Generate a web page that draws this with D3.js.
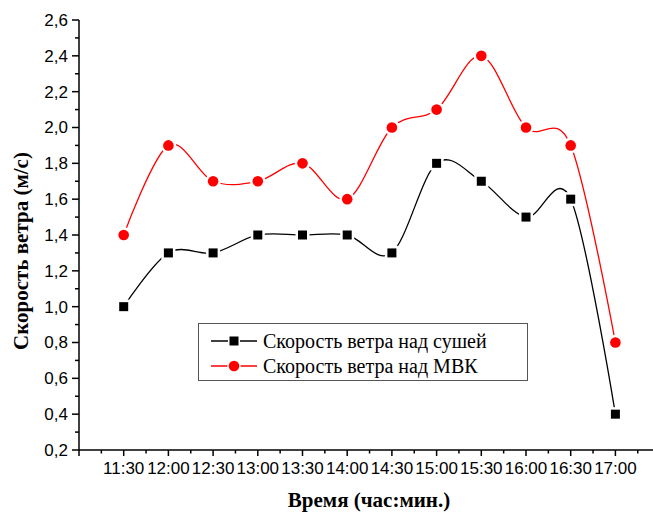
<!DOCTYPE html>
<html>
<head>
<meta charset="utf-8">
<script src="https://cdn.jsdelivr.net/npm/d3@7"></script>
<style>
  body { margin: 0; background: #fff; }
</style>
</head>
<body>
<div id="chart"></div>
<script>
// data
var times = ["11:30", "12:00", "12:30", "13:00", "13:30", "14:00", "14:30", "15:00", "15:30", "16:00", "16:30", "17:00"];
var landSpeed = [1.0, 1.3, 1.3, 1.4, 1.4, 1.4, 1.3, 1.8, 1.7, 1.5, 1.6, 0.4];
var mvkSpeed = [1.4, 1.9, 1.7, 1.7, 1.8, 1.6, 2.0, 2.1, 2.4, 2.0, 1.9, 0.8];
var yTicks = [0.2, 0.4, 0.6, 0.8, 1.0, 1.2, 1.4, 1.6, 1.8, 2.0, 2.2, 2.4, 2.6];
var seriesNames = ["Скорость ветра над сушей", "Скорость ветра над МВК"];

var width = 653, height = 514;
var plotLeft = 79, plotTop = 20, plotBottom = 450;

var svg = d3.select("#chart").append("svg")
    .attr("width", width)
    .attr("height", height);

// index -1 sits on the y axis, one step is ~44.7px
var x = d3.scaleLinear().domain([-1, 12]).range([plotLeft, plotLeft + 13 * 44.7]);
var y = d3.scaleLinear().domain([0.2, 2.6]).range([plotBottom, plotTop]);

// x axis: major ticks on each slot, minor at halves
var xMajor = d3.range(-1, 13);
var xMinor = d3.range(-0.5, 12.5, 1);
var xAxis = svg.append("g").attr("transform", "translate(0," + plotBottom + ")");
xAxis.append("line").attr("x1", plotLeft).attr("x2", width).attr("stroke", "#000").attr("stroke-width", 1.5);
xAxis.selectAll(".maj").data(xMajor).enter().append("line")
    .attr("x1", d => x(d)).attr("x2", d => x(d)).attr("y1", 0).attr("y2", 6)
    .attr("stroke", "#000").attr("stroke-width", 1.5);
xAxis.selectAll(".min").data(xMinor).enter().append("line")
    .attr("x1", d => x(d)).attr("x2", d => x(d)).attr("y1", 0).attr("y2", 3.5)
    .attr("stroke", "#000").attr("stroke-width", 1.5);
xAxis.selectAll("text").data(times).enter().append("text")
    .attr("x", (d, i) => x(i)).attr("y", 24)
    .attr("text-anchor", "middle")
    .style("font-family", "'Liberation Sans', Arial, sans-serif")
    .style("font-size", "17px")
    .text(d => d);

// y axis
var yMinor = d3.range(0.3, 2.6, 0.2);
var yAxis = svg.append("g").attr("transform", "translate(" + plotLeft + ",0)");
yAxis.append("line").attr("y1", plotTop).attr("y2", plotBottom).attr("stroke", "#000").attr("stroke-width", 1.5);
yAxis.selectAll(".maj").data(yTicks).enter().append("line")
    .attr("y1", d => y(d)).attr("y2", d => y(d)).attr("x1", 0).attr("x2", -7)
    .attr("stroke", "#000").attr("stroke-width", 1.5);
yAxis.selectAll(".min").data(yMinor).enter().append("line")
    .attr("y1", d => y(d)).attr("y2", d => y(d)).attr("x1", 0).attr("x2", -4)
    .attr("stroke", "#000").attr("stroke-width", 1.5);
yAxis.selectAll("text").data(yTicks).enter().append("text")
    .attr("x", -11).attr("y", d => y(d)).attr("dy", "0.35em")
    .attr("text-anchor", "end")
    .style("font-family", "'Liberation Sans', Arial, sans-serif")
    .style("font-size", "17px")
    .text(d => d.toFixed(1).replace(".", ","));

// axis titles
svg.append("text")
    .attr("transform", "translate(28,251) rotate(-90)")
    .attr("text-anchor", "middle")
    .style("font-family", "'Liberation Serif', 'Times New Roman', serif")
    .style("font-weight", "bold")
    .style("font-size", "21px")
    .text("Скорость ветра (м/с)");
svg.append("text")
    .attr("x", 369).attr("y", 507)
    .attr("text-anchor", "middle")
    .style("font-family", "'Liberation Serif', 'Times New Roman', serif")
    .style("font-weight", "bold")
    .style("font-size", "21px")
    .text("Время (час:мин.)");

// lines (uniform catmull-rom overshoots like the origin spline)
var line = d3.line()
    .x((d, i) => x(i))
    .y(d => y(d))
    .curve(d3.curveCatmullRom.alpha(0));

svg.append("path").datum(mvkSpeed)
    .attr("d", line).attr("fill", "none").attr("stroke", "#ff0000").attr("stroke-width", 1.3);
svg.append("path").datum(landSpeed)
    .attr("d", line).attr("fill", "none").attr("stroke", "#000").attr("stroke-width", 1.3);

// markers, white outline leaves a gap in the line like the original
svg.selectAll(".dot").data(mvkSpeed).enter().append("circle")
    .attr("cx", (d, i) => x(i)).attr("cy", d => y(d)).attr("r", 5.3)
    .attr("fill", "#ff0000").attr("stroke", "#fff").attr("stroke-width", 5)
    .attr("paint-order", "stroke");
svg.selectAll(".sq").data(landSpeed).enter().append("rect")
    .attr("x", (d, i) => x(i) - 4.5).attr("y", d => y(d) - 4.5)
    .attr("width", 9).attr("height", 9)
    .attr("fill", "#000").attr("stroke", "#fff").attr("stroke-width", 5)
    .attr("paint-order", "stroke");

// legend
var legend = svg.append("g");
legend.append("rect")
    .attr("x", 198.5).attr("y", 323.5).attr("width", 329).attr("height", 57)
    .attr("fill", "#fff").attr("stroke", "#555").attr("stroke-width", 1);
var colors = ["#000", "#ff0000"];
seriesNames.forEach(function (name, i) {
    var cy = 341 + i * 25;
    legend.append("line").attr("x1", 211).attr("x2", 257).attr("y1", cy).attr("y2", cy)
        .attr("stroke", colors[i]).attr("stroke-width", 1.3);
    if (i == 0) {
        legend.append("rect").attr("x", 234 - 4.5).attr("y", cy - 4.5).attr("width", 9).attr("height", 9)
            .attr("fill", "#000").attr("stroke", "#fff").attr("stroke-width", 3).attr("paint-order", "stroke");
    } else {
        legend.append("circle").attr("cx", 234).attr("cy", cy).attr("r", 5.3)
            .attr("fill", "#ff0000").attr("stroke", "#fff").attr("stroke-width", 3).attr("paint-order", "stroke");
    }
    legend.append("text").attr("x", 263).attr("y", cy).attr("dy", "0.33em")
        .style("font-family", "'Liberation Serif', 'Times New Roman', serif")
        .style("font-size", "20px")
        .text(name);
});
</script>
</body>
</html>
